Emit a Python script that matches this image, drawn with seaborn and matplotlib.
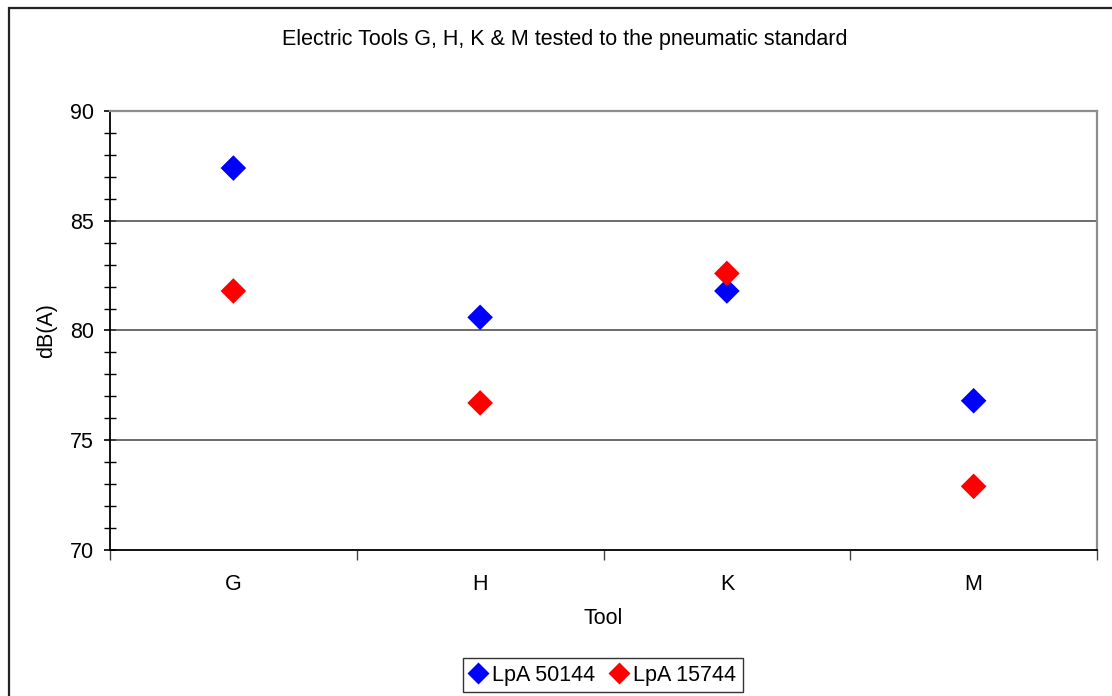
import matplotlib
matplotlib.use("Agg")
import matplotlib.pyplot as plt
import matplotlib.patches as mpatches
from matplotlib.ticker import MultipleLocator, FixedLocator, NullFormatter
import pandas as pd
import seaborn as sns

# ── Data ───────────────────────────────────────────────────────────────────────
TOOLS = ["G", "H", "K", "M"]
LPA_50144 = [87.4, 80.6, 81.8, 76.8]
LPA_15744 = [81.8, 76.7, 82.6, 72.9]
SERIES = ["LpA 50144", "LpA 15744"]
COLORS = {"LpA 50144": "#0000FF", "LpA 15744": "#FF0000"}

df = pd.DataFrame({
    "Tool": TOOLS * 2,
    "dB": LPA_50144 + LPA_15744,
    "series": [SERIES[0]] * len(TOOLS) + [SERIES[1]] * len(TOOLS),
})
df["x"] = df["Tool"].map({t: i for i, t in enumerate(TOOLS)})

# ── Plot ───────────────────────────────────────────────────────────────────────
sns.set_style("white")
plt.rcParams["font.family"] = ["Liberation Sans", "DejaVu Sans"]
plt.rcParams.update({"text.color": "black", "axes.labelcolor": "black",
                     "xtick.color": "black", "ytick.color": "black"})
FS = 15.5

fig = plt.figure(figsize=(11.12, 6.96), dpi=100)
ax = fig.add_axes([110 / 1112, 1 - 550 / 696, 987 / 1112, 439 / 696])

# outer chart border (right/bottom edges fall outside the image)
fig.patches.append(mpatches.Rectangle((9 / 1112, -0.05), 1.2, 1 - 8 / 696 + 0.05,
                                      transform=fig.transFigure, fill=False,
                                      edgecolor="#222222", linewidth=1.6, zorder=0))

for y in [75, 80, 85]:
    ax.axhline(y, color="#444444", linewidth=1.1, zorder=1)

sns.scatterplot(data=df, x="x", y="dB", hue="series", palette=COLORS,
                marker="D", s=170, edgecolor="none", ax=ax, zorder=3, legend=False)

ax.set_xlim(-0.5, 3.5)
ax.set_ylim(70, 90)

ax.xaxis.set_major_locator(FixedLocator([-0.5, 0.5, 1.5, 2.5, 3.5]))
ax.xaxis.set_major_formatter(NullFormatter())
ax.xaxis.set_minor_locator(FixedLocator(range(len(TOOLS))))
ax.set_xticklabels(TOOLS, minor=True)
ax.tick_params(axis="x", which="both", bottom=True)
ax.tick_params(axis="x", which="major", direction="out", length=7, width=1, color="#444444")
ax.tick_params(axis="x", which="minor", length=0, pad=17, labelsize=FS, labelcolor="black")

ax.yaxis.set_major_locator(MultipleLocator(5))
ax.yaxis.set_minor_locator(MultipleLocator(1))
ax.tick_params(axis="y", which="both", left=True)
ax.tick_params(axis="y", which="major", direction="inout", length=9, width=1.2,
               color="black", labelsize=FS, labelcolor="black", pad=7)
ax.tick_params(axis="y", which="minor", direction="inout", length=8, width=1, color="black")

for side in ["left", "bottom"]:
    ax.spines[side].set_color("black")
    ax.spines[side].set_linewidth(1.3)
for side in ["top", "right"]:
    ax.spines[side].set_color("#8c8c8c")
    ax.spines[side].set_linewidth(1.6)

ax.set_xlabel("Tool", fontsize=FS, labelpad=10, color="black")
ax.set_ylabel("dB(A)", fontsize=FS, labelpad=9, color="black")
fig.text(565 / 1112, 1 - 40 / 696, "Electric Tools G, H, K & M tested to the pneumatic standard",
         ha="center", va="center", fontsize=FS, color="black")

handles = [plt.Line2D([], [], marker="D", linestyle="none", markersize=11,
                      markerfacecolor=COLORS[s], markeredgecolor="none") for s in SERIES]
fig.legend(handles, SERIES, loc="center", bbox_to_anchor=(603 / 1112, 1 - 675 / 696),
           ncol=2, frameon=True, fancybox=False, edgecolor="black", fontsize=FS,
           handlelength=0.8, handletextpad=0.25, columnspacing=0.7, borderpad=0.3,
           borderaxespad=0)

fig.savefig("out.png", dpi=100)
